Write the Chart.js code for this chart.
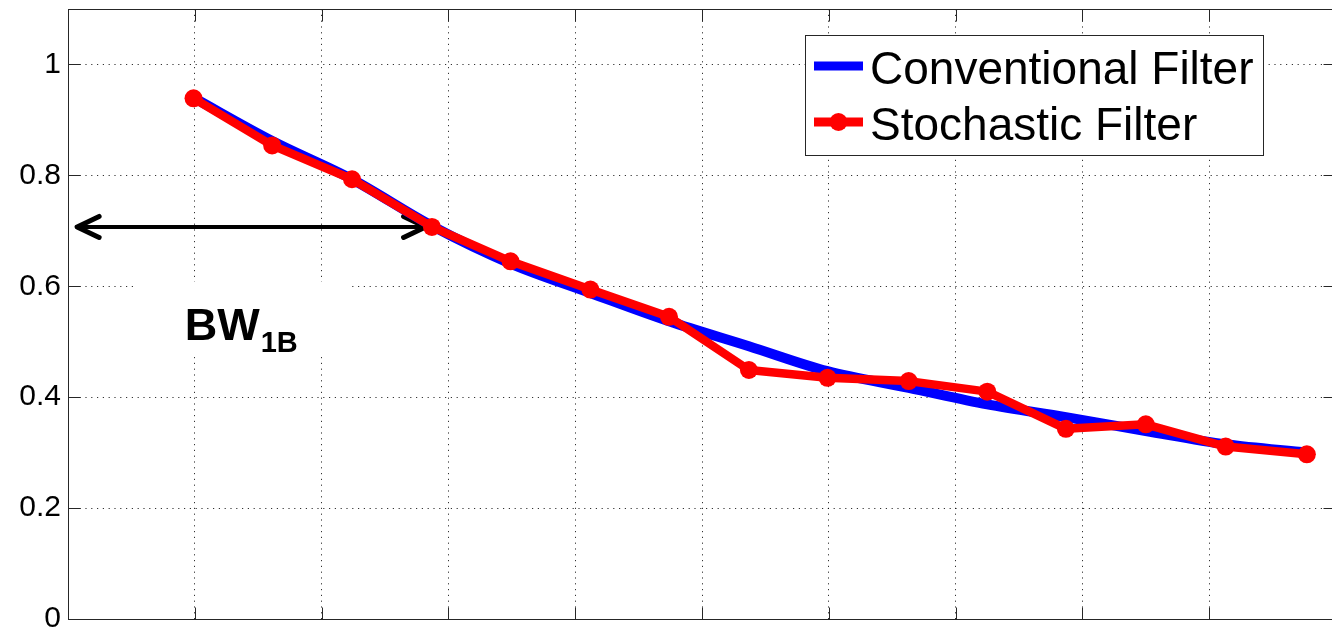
<!DOCTYPE html>
<html><head><meta charset="utf-8">
<script src="https://cdn.jsdelivr.net/npm/chart.js@4.4.0/dist/chart.umd.min.js"></script>
<style>
html,body{margin:0;padding:0;background:#fff;overflow:hidden;}
#wrap{width:1345px;height:632px;}
</style></head><body>
<div id="wrap"><canvas id="c" width="1345" height="632"></canvas></div>
<script>
// ---- data ----
const xValues = [0.99, 1.61, 2.24, 2.87, 3.49, 4.12, 4.74, 5.37, 5.99, 6.63, 7.25, 7.87, 8.50, 9.13, 9.77];
const conventional = [0.940, 0.862, 0.793, 0.709, 0.641, 0.588, 0.537, 0.492, 0.447, 0.417, 0.387, 0.364, 0.339, 0.315, 0.300];
const stochastic = [0.939, 0.854, 0.793, 0.707, 0.645, 0.594, 0.545, 0.449, 0.435, 0.429, 0.410, 0.343, 0.351, 0.311, 0.297];
const yTickValues = [0, 0.2, 0.4, 0.6, 0.8, 1];
const xTickValues = [1, 2, 3, 4, 5, 6, 7, 8, 9];
const seriesLabels = ['Conventional Filter', 'Stochastic Filter'];
const bwLabel = 'BW';
const bwSub = '1B';
const bwLevel = 0.707;

const FONT = '"Liberation Sans", Arial, sans-serif';

const overlay = {
  id: 'overlay',
  beforeDatasetsDraw(chart) {
    const {ctx, scales: {x, y}} = chart;
    ctx.save();
    // white background box of the BW annotation
    const bx1 = x.getPixelForValue(0.535), bx2 = x.getPixelForValue(2.217);
    const by1 = y.getPixelForValue(0.608), by2 = y.getPixelForValue(0.479);
    ctx.fillStyle = '#fff';
    ctx.fillRect(bx1, by1, bx2 - bx1, by2 - by1);
    // text
    ctx.fillStyle = '#000';
    ctx.textBaseline = 'alphabetic';
    ctx.textAlign = 'left';
    ctx.font = 'bold 45px ' + FONT;
    const tx = x.getPixelForValue(0.92), ty = y.getPixelForValue(0.504);
    ctx.fillText(bwLabel, tx, ty);
    const w = ctx.measureText(bwLabel).width;
    ctx.font = 'bold 29px ' + FONT;
    ctx.fillText(bwSub, tx + w + 1, ty + 12);
    // double arrow
    const ay = y.getPixelForValue(bwLevel);
    const ax1 = x.getPixelForValue(0.072), ax2 = x.getPixelForValue(2.82);
    ctx.strokeStyle = '#000';
    ctx.lineWidth = 4;
    ctx.lineCap = 'round';
    ctx.lineJoin = 'round';
    ctx.beginPath();
    ctx.moveTo(ax1, ay); ctx.lineTo(ax2, ay);
    ctx.stroke();
    ctx.lineWidth = 5;
    ctx.beginPath();
    ctx.moveTo(ax1 + 22, ay - 10.5); ctx.lineTo(ax1, ay); ctx.lineTo(ax1 + 22, ay + 10.5);
    ctx.moveTo(ax2 - 22, ay - 10.5); ctx.lineTo(ax2, ay); ctx.lineTo(ax2 - 22, ay + 10.5);
    ctx.stroke();
    ctx.restore();
  },
  afterDatasetsDraw(chart) {
    const {ctx, chartArea: a, scales: {x, y}} = chart;
    ctx.save();
    // frame
    ctx.strokeStyle = '#262626';
    ctx.lineWidth = 1;
    const L = Math.round(a.left) + 0.5, R = Math.round(a.right) - 0.5;
    const T = Math.round(a.top) + 0.5, B = Math.round(a.bottom) + 0.5;
    ctx.strokeRect(L, T, R - L, B - T);
    ctx.beginPath();
    yTickValues.forEach(v => {
      const p = Math.round(y.getPixelForValue(v)) + 0.5;
      ctx.moveTo(L, p); ctx.lineTo(L + 12, p);
      ctx.moveTo(R, p); ctx.lineTo(R - 12, p);
    });
    xTickValues.forEach(v => {
      const p = Math.round(x.getPixelForValue(v)) + 0.5;
      ctx.moveTo(p, B); ctx.lineTo(p, B - 12);
      ctx.moveTo(p, T); ctx.lineTo(p, T + 12);
    });
    ctx.stroke();
    // legend
    const lx1 = 805.5, lx2 = 1263.5, ly1 = 35.5, ly2 = 155.5;
    ctx.fillStyle = '#fff';
    ctx.fillRect(lx1, ly1, lx2 - lx1, ly2 - ly1);
    ctx.strokeStyle = '#262626';
    ctx.lineWidth = 1;
    ctx.strokeRect(lx1, ly1, lx2 - lx1, ly2 - ly1);
    const ds = chart.data.datasets;
    const rows = [66, 122];
    const maxW = [386, 330];
    ds.forEach((d, i) => {
      const yy = rows[i];
      ctx.strokeStyle = d.borderColor;
      ctx.lineWidth = 9;
      ctx.lineCap = 'butt';
      ctx.beginPath();
      ctx.moveTo(814, yy); ctx.lineTo(863, yy);
      ctx.stroke();
      if (d.pointRadius > 0) {
        ctx.fillStyle = d.borderColor;
        ctx.beginPath();
        ctx.arc(838.5, yy, 9, 0, Math.PI * 2);
        ctx.fill();
      }
      ctx.fillStyle = '#000';
      ctx.font = '46px ' + FONT;
      ctx.textBaseline = 'alphabetic';
      ctx.textAlign = 'left';
      ctx.fillText(d.label, 870, yy + 17.5, maxW[i]);
    });
    ctx.restore();
  }
};

const noPad = s => { s.paddingTop = 0; s.paddingBottom = 0; s.paddingLeft = 0; s.paddingRight = 0; };

new Chart(document.getElementById('c'), {
  type: 'line',
  data: {
    datasets: [
      {
        label: seriesLabels[0],
        data: xValues.map((xv, i) => ({x: xv, y: conventional[i]})),
        borderColor: '#0000FF',
        backgroundColor: '#0000FF',
        borderWidth: 10,
        pointRadius: 0,
        cubicInterpolationMode: 'monotone',
        borderJoinStyle: 'round',
        borderCapStyle: 'round',
        fill: false,
        order: 2
      },
      {
        label: seriesLabels[1],
        data: xValues.map((xv, i) => ({x: xv, y: stochastic[i]})),
        borderColor: '#FF0000',
        backgroundColor: '#FF0000',
        pointBackgroundColor: '#FF0000',
        pointBorderColor: '#FF0000',
        borderWidth: 8.5,
        pointRadius: 9,
        pointBorderWidth: 0,
        tension: 0,
        borderJoinStyle: 'round',
        fill: false,
        order: 1
      }
    ]
  },
  options: {
    responsive: false,
    animation: false,
    devicePixelRatio: 1,
    layout: {padding: {top: 6, bottom: 13, left: 0, right: 5}},
    plugins: {legend: {display: false}, tooltip: {enabled: false}},
    scales: {
      x: {
        type: 'linear',
        min: 0, max: 10,
        afterBuildTicks: s => { s.ticks = xTickValues.map(v => ({value: v})); },
        afterFit: s => { s.height = 0; noPad(s); },
        ticks: {display: false},
        grid: {color: 'rgba(0,0,0,0.8)', lineWidth: 1, drawTicks: false},
        border: {display: false, dash: [1.2, 4.6]}
      },
      y: {
        type: 'linear',
        min: 0, max: 1.1,
        afterBuildTicks: s => { s.ticks = yTickValues.map(v => ({value: v})); },
        afterFit: s => { s.width = 68; noPad(s); },
        ticks: {
          padding: 7,
          color: '#000',
          font: {family: FONT, size: 30},
          callback: v => String(v)
        },
        grid: {color: 'rgba(0,0,0,0.8)', lineWidth: 1, drawTicks: false},
        border: {display: false, dash: [1.2, 4.6]}
      }
    }
  },
  plugins: [overlay]
});
</script>
</body></html>
